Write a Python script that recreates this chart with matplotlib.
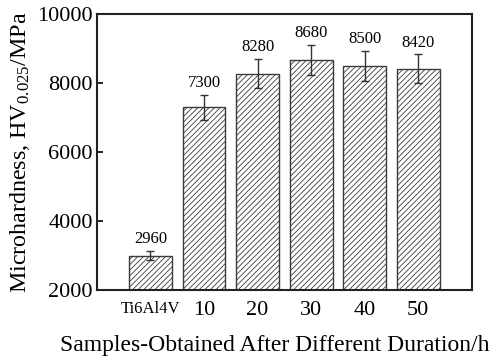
import matplotlib.pyplot as plt
import numpy as np

plt.rcParams['font.family'] = ['Liberation Serif', 'DejaVu Serif']
plt.rcParams['mathtext.fontset'] = 'custom'
plt.rcParams['mathtext.rm'] = 'Liberation Serif'
plt.rcParams['mathtext.it'] = 'Liberation Serif:italic'
plt.rcParams['hatch.linewidth'] = 0.6

samples = ['Ti6Al4V', '10', '20', '30', '40', '50']
hardness = [3000, 7300, 8280, 8680, 8500, 8420]
errors = [140, 360, 415, 440, 435, 420]
labels = ['2960', '7300', '8280', '8680', '8500', '8420']

fig = plt.figure(figsize=(5.02, 3.58), dpi=100)
ax = fig.add_axes([0.193, 0.19, 0.747, 0.77])

x = np.arange(len(samples))
ax.bar(x, hardness, width=0.8, bottom=0, color='white', edgecolor='#3a3a3a',
       hatch='//////', linewidth=1.0)
ax.errorbar(x, hardness, yerr=errors, fmt='none', ecolor='#333333',
            elinewidth=1.0, capsize=3, capthick=1.0)
for xi, h, e, lab in zip(x, hardness, errors, labels):
    ax.text(xi, h + e + 110, lab, ha='center', va='bottom', fontsize=12)

ax.set_xlim(-1, 6)
ax.set_ylim(2000, 10000)
ax.set_yticks([2000, 4000, 6000, 8000, 10000])
ax.set_xticks(x)
ax.set_xticklabels(samples, fontsize=16)
ax.get_xticklabels()[0].set_fontsize(12)
ax.tick_params(axis='x', length=0, pad=8)
ax.tick_params(axis='y', direction='in', labelsize=16, length=4, width=1.2, pad=3)
for s in ax.spines.values():
    s.set_linewidth(1.5)
    s.set_color('#222222')

ax.set_ylabel('Microhardness, HV$_{0.025}$/MPa', fontsize=17.3, labelpad=4)
ax.set_xlabel('Samples-Obtained After Different Duration/h', fontsize=17)
ax.xaxis.set_label_coords(0.475, -0.165)

plt.savefig('out.png', dpi=100)
